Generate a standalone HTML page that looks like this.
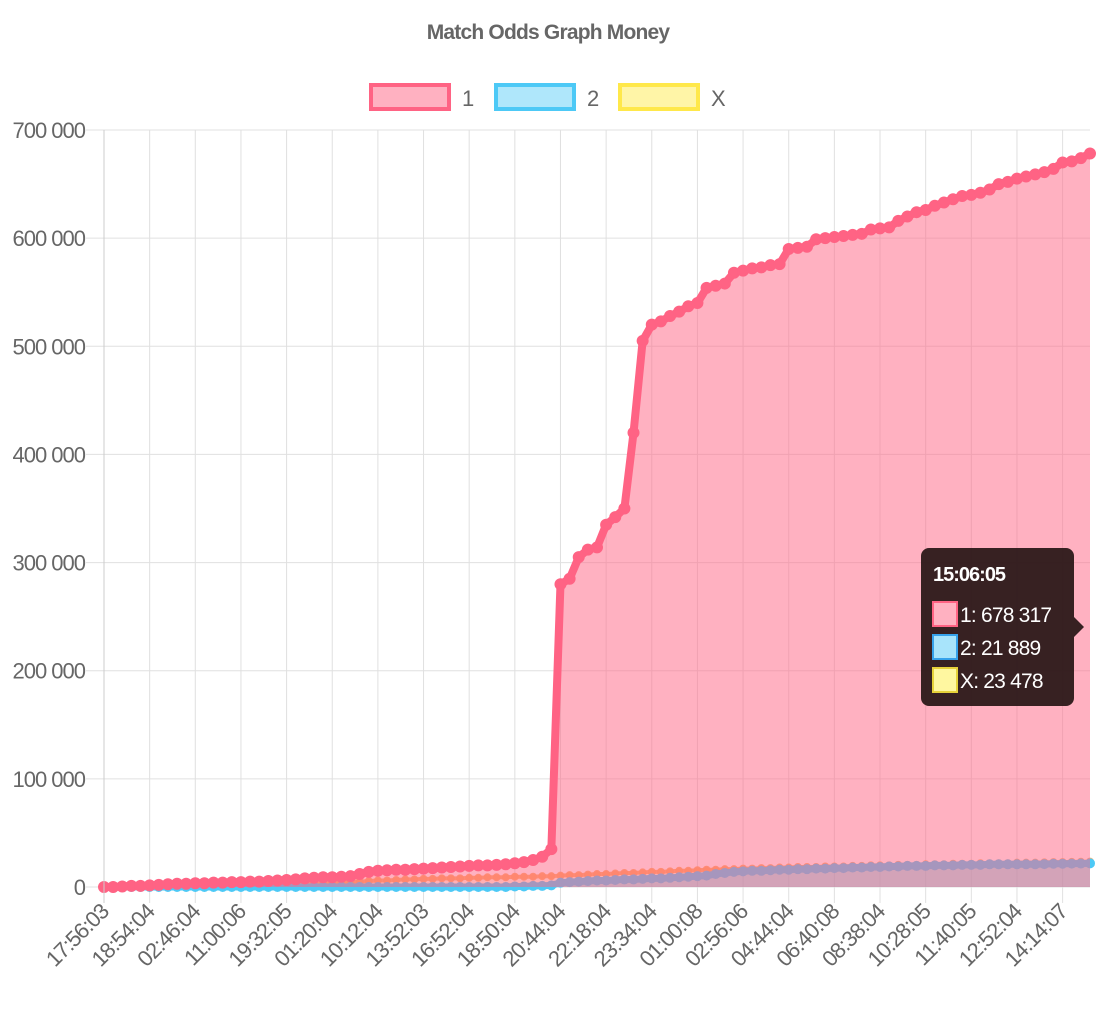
<!DOCTYPE html>
<html><head><meta charset="utf-8"><style>
html,body{margin:0;padding:0;background:#fff;}
body{width:1096px;height:1004px;overflow:hidden;font-family:"Liberation Sans",Arial,sans-serif;}
svg text{font-family:"Liberation Sans",Arial,sans-serif;}
</style></head><body>
<svg id="chart" width="1096" height="1004" xmlns="http://www.w3.org/2000/svg">
<text x="548" y="39" text-anchor="middle" font-size="21" font-weight="bold" fill="#666" letter-spacing="-0.8">Match Odds Graph Money</text>
<g>
<g><rect x="371" y="85" width="78" height="24" fill="rgba(255,99,132,0.5)" stroke="#ff6384" stroke-width="4"/><text x="462" y="106" font-size="22" fill="#666">1</text></g>
<g><rect x="496" y="85" width="78" height="24" fill="rgba(77,201,246,0.45)" stroke="#4dc9f6" stroke-width="4"/><text x="587" y="106" font-size="22" fill="#666">2</text></g>
<g><rect x="620" y="85" width="78" height="24" fill="rgba(255,236,80,0.5)" stroke="#ffe84a" stroke-width="4"/><text x="711" y="106" font-size="22" fill="#666">X</text></g>
</g>
<g id="grid"></g>
<g id="series"></g>
<g id="axes"></g>
<g>
<rect x="921" y="548" width="153" height="158" rx="8" fill="rgba(40,22,22,0.93)"/>
<polygon points="1074,617 1084,627 1074,637" fill="rgba(40,22,22,0.93)"/>
<text x="933" y="581" font-size="20" font-weight="bold" fill="#fff" letter-spacing="-1">15:06:05</text>
<rect x="933" y="602" width="24" height="24" fill="#ffb1c1" stroke="#ff6384" stroke-width="2"/>
<text x="960" y="622" font-size="21" fill="#fff" letter-spacing="-0.8">1: 678 317</text>
<rect x="933" y="635" width="24" height="24" fill="#a8e4fb" stroke="#36a2eb" stroke-width="2"/>
<text x="960" y="655" font-size="21" fill="#fff" letter-spacing="-0.8">2: 21 889</text>
<rect x="933" y="668" width="24" height="24" fill="#fff7a0" stroke="#e6d23a" stroke-width="2"/>
<text x="960" y="688" font-size="21" fill="#fff" letter-spacing="-0.8">X: 23 478</text>
</g>
</svg>
<script>
const xLabels=["17:56:03","18:54:04","02:46:04","11:00:06","19:32:05","01:20:04","10:12:04","13:52:03","16:52:04","18:50:04","20:44:04","22:18:04","23:34:04","01:00:08","02:56:06","04:44:04","06:40:08","08:38:04","10:28:05","11:40:05","12:52:04","14:14:07"];
const yTicks=[0,100000,200000,300000,400000,500000,600000,700000];
const series1K=[0,0,0.5,1,1,1.5,2,2.5,3,3,3.5,3.5,4,4,4.5,4.5,5,5,5.5,6,6.5,7,8,8.5,9,9,9.5,10,12,14,15,15.5,16,16,16.5,17,17.5,18,18.5,19,19.5,20,20,20.5,21,22,23,25,28,35,280,285,305,312,314,335,342,350,420,505,520,523,528,532,537,540,554,556,558,568,570,572,573,575,576,590,591,592,599,600,601,602,603,604,608,609,610,616,620,624,626,630,633,636,639,640,642,645,650,652,655,657,659,661,664,670,671,674,678.317];
const series2K=[0,0,0,0,0,0,0,0,0,0,0,0,0,0,0,0,0,0,0,0,0,0,0,0,0,0,0,0,0,0,0,0,0,0,0,0,0,0,0,0,0,0,0,0,0,0.5,0.5,1,1,1.5,4,4.5,5,5.5,6,6,6.5,7,7,7.5,8,8,8.5,9,9.5,10,10.5,12,13,14,14.5,15,15,15.5,16,16,16.5,16.5,17,17,17.5,17.5,18,18,18.5,18.5,19,19,19.5,19.5,19.5,20,20,20,20.5,20.5,20.5,21,21,21,21,21,21,21.2,21.5,21.5,21.6,21.7,21.889];
const seriesXK=[0,0,0,0,0,0,0,0,0,0,0.5,0.5,0.5,1,1,1,1.5,1.5,2,2,2,2.5,2.5,3,3,3.5,4,4.5,5,5.5,6,6,6.5,7,7,7.5,7.5,8,8,8,8.5,8.5,9,9,9,9.5,9.5,9.5,10,10,10.5,11,11,11.5,12,12,12.5,13,13,13.5,14,14,14.5,15,15,15.5,16,16,16.5,16.5,17,17,17.5,17.5,18,18,18.5,18.5,18.5,19,19,19,19.5,19.5,20,20,20,20.5,20.5,20.5,21,21,21,21.5,21.5,21.5,22,22,22,22,22.5,22.5,22.5,22.8,23,23,23.2,23.3,23.478];
const NS="http://www.w3.org/2000/svg";
const L=104,R=1090,T=130,B=887,N=series1K.length,YMAX=700000;
const xs=i=>L+(R-L)*i/(N-1);
const ys=v=>B-(B-T)*v/YMAX;
function mk(tag,attrs,parent){const e=document.createElementNS(NS,tag);for(const k in attrs)e.setAttribute(k,attrs[k]);parent.appendChild(e);return e;}
const grid=document.getElementById('grid'),axes=document.getElementById('axes'),ser=document.getElementById('series');
const fmt=v=>String(v).replace(/\B(?=(\d{3})+(?!\d))/g,' ');
yTicks.forEach(v=>{
  const y=ys(v);
  const g=mk('line',{x1:L-18,x2:R,y1:y,y2:y,stroke:'#e0e0e0','stroke-width':1},grid);
  
  
  const t=mk('text',{x:L-19,y:y+8,'text-anchor':'end','font-size':22,fill:'#666','letter-spacing':'-1'},axes);
  
  
  t.textContent=fmt(v);
});
xLabels.forEach((lab,k)=>{
  const x=xs(k*5);
  const g=mk('line',{x1:x,x2:x,y1:T,y2:B+16,stroke:'#e0e0e0','stroke-width':1},grid);
  
  
  const t=mk('text',{x:x+6,y:B+26,'text-anchor':'end','font-size':22,fill:'#666','letter-spacing':'-1',transform:`rotate(-45 ${x+6} ${B+26})`},axes);
  
  
  t.textContent=lab;
});
const ax=mk('line',{x1:L,x2:L,y1:T,y2:B+16,stroke:'#ccc','stroke-width':1},axes);


function draw(vals,name,fill,stroke,lw,pr,pfill){
  const pts=vals.map((v,i)=>[xs(i),ys(v*1000)]);
  const d='M'+pts.map(p=>p[0].toFixed(2)+','+p[1].toFixed(2)).join('L');
  const a=mk('path',{d:d+`L${R},${B}L${L},${B}Z`,fill:fill},ser);
  
  
  const l=mk('path',{d:d,fill:'none',stroke:stroke,'stroke-width':lw,'stroke-linejoin':'round','stroke-linecap':'round'},ser);
  
  
  pts.forEach(p=>{
    const c=mk('circle',{cx:p[0],cy:p[1],r:pr,fill:pfill,stroke:stroke,'stroke-width':2},ser);
    
    
  });
}
draw(seriesXK,'series-x','rgba(255,236,80,0.15)','rgba(255,170,90,0.9)',4,3,'rgba(255,170,90,0.9)');
draw(series2K,'series-2','rgba(77,201,246,0.5)','#4dc9f6',7,4,'#4dc9f6');
draw(series1K,'series-1','rgba(255,99,132,0.5)','#ff6384',8,5,'#ff6384');
</script>
</body></html>
